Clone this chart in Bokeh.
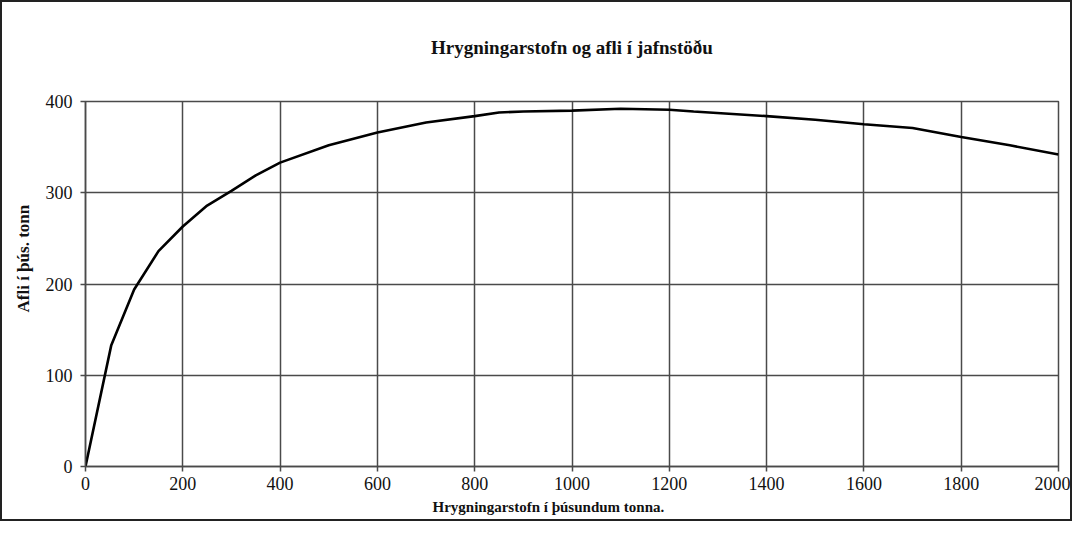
from bokeh.plotting import figure
from bokeh.models import Range1d, FixedTicker, Title, LinearAxis
from bokeh.embed import file_html
from bokeh.resources import INLINE

# Data (x: spawning stock, thousand tonnes; y: catch, thousand tonnes)
stock = [0, 53, 100, 150, 200, 250, 300, 350, 400, 500, 600, 700, 800, 850, 900,
         1000, 1100, 1200, 1250, 1400, 1500, 1600, 1700, 1800, 1900, 2000]
catch = [0, 133, 194, 236, 263, 286, 302, 319, 333, 352, 366, 377, 384, 388, 389,
         390, 392, 391, 389, 384, 380, 375, 371, 361, 352, 342]

x_ticks = [0, 200, 400, 600, 800, 1000, 1200, 1400, 1600, 1800, 2000]
y_ticks = [0, 100, 200, 300, 400]

title_text = "Hrygningarstofn og afli í jafnstöðu"
x_label = "Hrygningarstofn í þúsundum tonna."
y_label = "Afli í þús. tonn"

SERIF = "Liberation Serif"
GRID = "#4a4a4a"

p = figure(width=1072, height=521, output_backend="svg", toolbar_location=None,
           x_range=Range1d(0, 2000), y_range=Range1d(0, 400),
           min_border_left=79, min_border_right=16, min_border_top=99, min_border_bottom=57)
p.styles = {"border": "2px solid #222"}

p.background_fill_color = "white"
p.border_fill_color = "white"
p.outline_line_color = GRID
p.outline_line_width = 1.5

for ax in (p.xaxis[0], p.yaxis[0]):
    ax.major_label_text_font = SERIF
    ax.major_label_text_font_size = "18px"
    ax.major_label_text_color = "#111"
    ax.axis_line_color = GRID
    ax.axis_line_width = 1.5
    ax.major_tick_line_color = GRID
    ax.major_tick_line_width = 1.5
    ax.major_tick_out = 5
    ax.major_tick_in = 0
    ax.minor_tick_line_color = None

p.xaxis[0].ticker = FixedTicker(ticks=x_ticks)
p.yaxis[0].ticker = FixedTicker(ticks=y_ticks)
p.xaxis[0].major_label_standoff = 5
p.yaxis[0].major_label_standoff = 8

# chart title as the label of an untick'd axis above the frame
top_ax = LinearAxis(ticker=FixedTicker(ticks=[]), axis_line_color=None,
                    major_tick_line_color=None, minor_tick_line_color=None,
                    major_label_text_font_size="0px", major_label_standoff=0,
                    major_tick_out=0, major_tick_in=0,
                    axis_label=title_text, axis_label_standoff=44,
                    axis_label_text_font=SERIF, axis_label_text_font_size="19px",
                    axis_label_text_font_style="bold", axis_label_text_color="#111")
p.add_layout(top_ax, "above")

p.xgrid[0].ticker = FixedTicker(ticks=x_ticks)
p.ygrid[0].ticker = FixedTicker(ticks=y_ticks)
for g in (p.xgrid[0], p.ygrid[0]):
    g.grid_line_color = GRID
    g.grid_line_width = 1.5
    g.grid_line_alpha = 1.0

p.line(stock, catch, line_color="#000", line_width=2.6)

yt = Title(text=y_label, align="left", offset=154, standoff=19,
           text_font=SERIF, text_font_size="17px", text_font_style="bold", text_color="#111")
p.add_layout(yt, "left")

xt = Title(text=x_label, align="left", offset=347, standoff=8,
           text_font=SERIF, text_font_size="15px", text_font_style="bold", text_color="#111")
p.add_layout(xt, "below")

open("out.html", "w").write(file_html(p, INLINE))
